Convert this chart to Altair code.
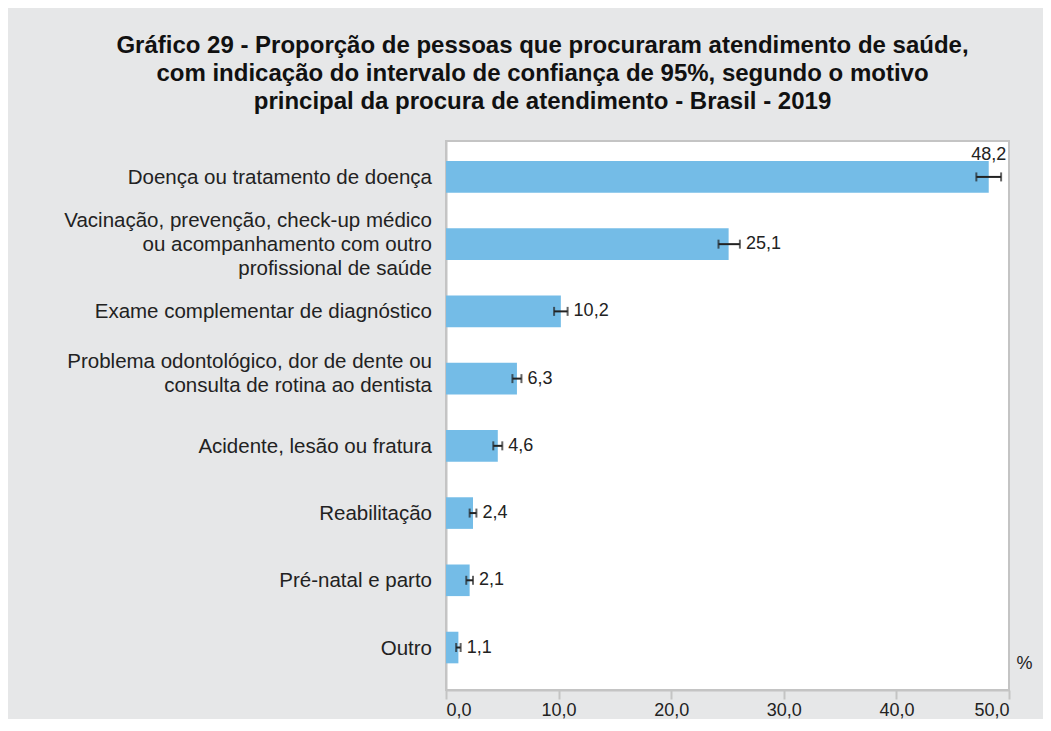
import altair as alt
import pandas as pd

categories = [
    "Doença ou tratamento de doença",
    "Vacinação, prevenção, check-up médico\nou acompanhamento com outro\nprofissional de saúde",
    "Exame complementar de diagnóstico",
    "Problema odontológico, dor de dente ou\nconsulta de rotina ao dentista",
    "Acidente, lesão ou fratura",
    "Reabilitação",
    "Pré-natal e parto",
    "Outro",
]
values = [48.2, 25.1, 10.2, 6.3, 4.6, 2.4, 2.1, 1.1]
lower = [47.1, 24.2, 9.6, 5.9, 4.2, 2.1, 1.8, 0.9]
upper = [49.3, 26.1, 10.8, 6.7, 5.0, 2.7, 2.4, 1.3]
x_ticks = [0, 10, 20, 30, 40, 50]
title_lines = [
    "Gráfico 29 - Proporção de pessoas que procuraram atendimento de saúde,",
    "com indicação do intervalo de confiança de 95%, segundo o motivo",
    "principal da procura de atendimento - Brasil - 2019",
]

df = pd.DataFrame({
    "cat": categories,
    "value": values,
    "lower": lower,
    "upper": upper,
    "label": [f"{v:.1f}".replace(".", ",") for v in values],
})

FONT = "Liberation Sans"
TXT = "#222222"
GRAY = "#c4c4c4"

y_scale = alt.Scale(paddingInner=0.53, paddingOuter=0.348, align=0.43)
y_enc = alt.Y(
    "cat:N",
    sort=categories,
    title=None,
    scale=y_scale,
    axis=alt.Axis(
        labels=False,
        ticks=False,
        domainColor=GRAY,
        domainWidth=2,
    ),
)
y_plain = alt.Y("cat:N", sort=categories)

x_scale = alt.Scale(domain=[0, 50], nice=False)

base = alt.Chart(df).transform_calculate(
    nlines="length(split(datum.cat, '\\n'))"
)

bars = base.mark_bar(color="#74BCE7").encode(
    x=alt.X(
        "value:Q",
        scale=x_scale,
        axis=alt.Axis(
            values=x_ticks,
            labelExpr="replace(format(datum.value, '.1f'), '.', ',')",
            labelFontSize=18,
            labelFont=FONT,
            labelColor=TXT,
            labelPadding=2,
            tickSize=9,
            tickColor=GRAY,
            tickWidth=2,
            domainColor=GRAY,
            domainWidth=2,
            grid=False,
            title="%",
            titleX=578,
            titleY=-27,
            titleAlign="center",
            titleBaseline="middle",
            titleFontSize=18,
            titleFont=FONT,
            titleFontWeight="normal",
            titleColor=TXT,
            titleAngle=0,
        ),
    ),
    y=y_enc,
)


def cat_text(n, dy):
    return base.transform_filter(alt.datum.nlines == n).mark_text(
        align="right", baseline="middle", lineBreak="\n", lineHeight=24,
        fontSize=20.5, font=FONT, color=TXT, dy=dy,
    ).encode(
        x=alt.value(-14),
        y=y_plain,
        text="cat:N",
    )


cat1 = cat_text(1, 1)
cat2 = cat_text(2, -17)
cat3 = cat_text(3, -23)

rule = base.mark_rule(color=TXT, strokeWidth=2).encode(
    x=alt.X("lower:Q", scale=x_scale),
    x2="upper:Q",
    y=y_plain,
)
tick_lo = base.mark_tick(color=TXT, thickness=2, size=9).encode(
    x=alt.X("lower:Q", scale=x_scale),
    y=y_plain,
)
tick_hi = base.mark_tick(color=TXT, thickness=2, size=9).encode(
    x=alt.X("upper:Q", scale=x_scale),
    y=y_plain,
)

labels_side = base.transform_filter(alt.datum.value < 40).mark_text(
    align="left", baseline="middle", dx=6, fontSize=18, font=FONT, color=TXT
).encode(
    x=alt.X("upper:Q", scale=x_scale),
    y=y_plain,
    text="label:N",
)
labels_top = base.transform_filter(alt.datum.value >= 40).mark_text(
    align="center", baseline="middle", dy=-22, fontSize=18, font=FONT, color=TXT
).encode(
    x=alt.X("value:Q", scale=x_scale),
    y=y_plain,
    text="label:N",
)

chart = (
    alt.layer(bars, cat1, cat2, cat3, rule, tick_lo, tick_hi, labels_side, labels_top)
    .properties(
        width=563,
        height=549,
        autosize=alt.AutoSizeParams(type="none"),
        padding={"left": 438, "top": 133, "right": 34, "bottom": 29},
        background="#e6e7e8",
        title=alt.TitleParams(
            text=title_lines,
            font=FONT,
            fontSize=24,
            fontWeight="bold",
            color="#111111",
            anchor="middle",
            frame="group",
            dx=-185,
            offset=27,
            lineHeight=28,
        ),
    )
    .configure_view(stroke=GRAY, strokeWidth=2, fill="white")
)

chart.save("out.html", embed_options={"renderer": "svg", "actions": False})
